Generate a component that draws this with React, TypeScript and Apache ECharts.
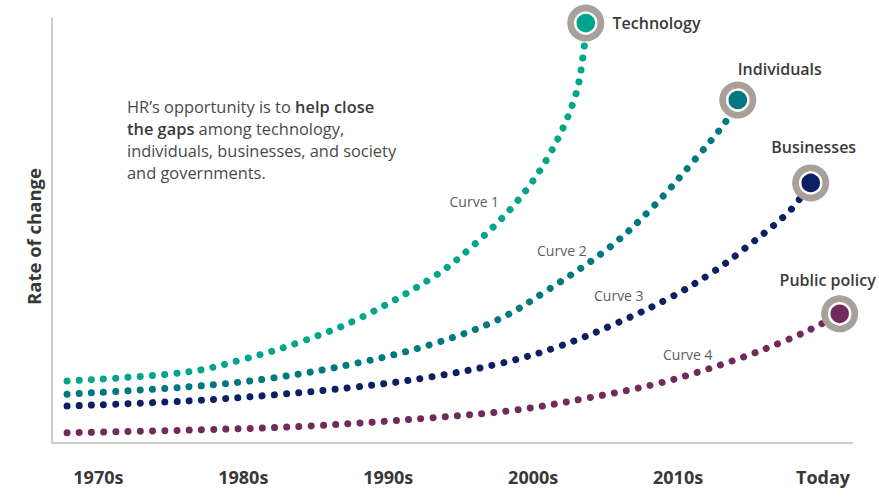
import React, { useEffect, useRef } from "react";
import * as echarts from "echarts";

// x: 0 = 1970s ... 5 = Today ; y: rate of change (0-100)
const decades = ["1970s", "1980s", "1990s", "2000s", "2010s", "Today"];
const decadeTicks = [0, 1, 2, 3, 4, 5];

const curveNames = ["Technology", "Individuals", "Businesses", "Public policy"];
const curveLabels = ["Curve 1", "Curve 2", "Curve 3", "Curve 4"];

const technology: number[][] = [
  [-0.216, 14.6], [0.612, 16.7], [1.012, 19.8], [1.412, 24.0], [1.805, 29.4],
  [2.322, 39.3], [2.584, 46.4], [2.881, 56.5], [3.115, 68.0], [3.287, 81.2],
  [3.35, 92.5], [3.363, 98.8],
];
const individuals: number[][] = [
  [-0.216, 11.5], [0.619, 13.2], [1.205, 15.3], [1.784, 18.8], [2.287, 23.1],
  [2.75, 28.9], [3.101, 36.0], [3.529, 46.1], [3.825, 55.5], [4.101, 66.1],
  [4.322, 75.3], [4.412, 80.7],
];
const businesses: number[][] = [
  [-0.216, 8.7], [0.619, 9.9], [1.205, 11.3], [1.784, 13.2], [2.287, 15.5],
  [2.784, 18.8], [3.184, 22.8], [3.577, 28.2], [3.956, 34.4], [4.239, 40.2],
  [4.446, 45.4], [4.77, 54.6], [4.915, 61.2],
];
const publicPolicy: number[][] = [
  [-0.216, 2.4], [0.701, 3.1], [1.46, 4.0], [2.287, 5.9], [2.887, 7.8],
  [3.377, 10.6], [3.873, 14.1], [4.356, 19.1], [4.749, 24.2], [4.977, 27.8],
  [5.115, 30.4],
];
const curves = [technology, individuals, businesses, publicPolicy];

// where the "Curve n" captions sit (data coordinates)
const curveLabelPositions: number[][] = [
  [2.594, 56.9], [3.198, 45.4], [3.591, 34.6], [4.067, 20.9],
];

const colors = ["#00a58c", "#00787f", "#0c1f63", "#722a5c"];
const ringColor = "#a8a099";
const endLabelOffsets = [[0, 0], [42, -31], [3, -36], [-12, -34]];

export default function App() {
  const ref = useRef<HTMLDivElement>(null);
  useEffect(() => {
    if (!ref.current) return;
    const chart = echarts.init(ref.current, undefined, { renderer: "svg" });
    const font = "'Open Sans', 'Noto Sans', sans-serif";

    const lineSeries = curves.map((d, i) => ({
      type: "line",
      name: curveNames[i],
      data: d,
      smooth: 0.35,
      showSymbol: false,
      silent: true,
      lineStyle: {
        color: colors[i],
        width: 7,
        type: [0.01, 12.2],
        cap: "round",
      },
      z: 2,
    }));

    const endPoints = curves.map((d) => d[d.length - 1]);

    const option: any = {
      animation: false,
      textStyle: { fontFamily: font },
      grid: { left: 52, right: 27, top: 18, bottom: 56, containLabel: false },
      xAxis: {
        type: "value",
        min: -0.32,
        max: 5.2,
        axisLine: { show: true, onZero: false, lineStyle: { color: "#cccccc", width: 2 } },
        axisTick: { show: false },
        splitLine: { show: false },
        axisLabel: {
          customValues: decadeTicks,
          formatter: (v: number) => decades[Math.round(v)],
          margin: 25,
          color: "#383838",
          fontSize: 18,
          fontWeight: "bold",
          fontFamily: font,
          showMinLabel: true,
          showMaxLabel: true,
        },
      },
      yAxis: {
        type: "value",
        min: 0,
        max: 100,
        name: "Rate of change",
        nameLocation: "middle",
        nameRotate: 90,
        nameGap: 9,
        nameTextStyle: {
          color: "#383838",
          fontSize: 18.5,
          fontWeight: "bold",
          fontFamily: font,
          padding: [0, 12, 0, 0],
        },
        axisLine: { show: true, onZero: false, lineStyle: { color: "#cccccc", width: 2 } },
        axisTick: { show: false },
        axisLabel: { show: false },
        splitLine: { show: false },
      },
      series: [
        ...lineSeries,
        {
          type: "scatter",
          name: "rings",
          silent: true,
          symbol: "circle",
          symbolSize: 37,
          itemStyle: { color: ringColor, opacity: 1 },
          data: endPoints,
          z: 3,
        },
        {
          type: "scatter",
          name: "ends",
          silent: true,
          symbol: "circle",
          symbolSize: 21,
          data: endPoints.map((p, i) => ({
            value: p,
            itemStyle: { color: colors[i], borderColor: "#ffffff", borderWidth: 2.5, opacity: 1 },
            label: {
              show: true,
              formatter: curveNames[i],
              position: i === 0 ? "right" : "inside",
              offset: endLabelOffsets[i],
              distance: 15,
              color: "#3a3a3a",
              fontSize: 16,
              fontWeight: 600,
              fontFamily: font,
            },
          })),
          z: 4,
        },
        {
          type: "scatter",
          name: "captions",
          silent: true,
          symbol: "circle",
          symbolSize: 2,
          itemStyle: { color: "rgba(255,255,255,0)", opacity: 1 },
          data: curveLabelPositions.map((p, i) => ({
            value: p,
            label: {
              show: true,
              formatter: curveLabels[i],
              position: "inside",
              color: "#5e5e5e",
              opacity: 1,
              fontSize: 14,
              fontFamily: font,
            },
          })),
          z: 5,
        },
      ],
      graphic: [
        {
          type: "text",
          left: 127,
          top: 95,
          style: {
            text:
              "HR’s opportunity is to {b|help close}\n{b|the gaps} among technology,\nindividuals, businesses, and society\nand governments.",
            fontSize: 16.4,
            lineHeight: 22,
            fill: "#4a4a4a",
            fontFamily: font,
            rich: {
              b: { fontSize: 16.4, fontWeight: 600, fill: "#3a3a3a", fontFamily: font, lineHeight: 22 },
            },
          },
        },
      ],
    };
    chart.setOption(option);
    return () => chart.dispose();
  }, []);
  return (
    <div
      ref={ref}
      style={{ position: "absolute", left: 0, top: 0, width: 879, height: 499, background: "#ffffff" }}
    />
  );
}
